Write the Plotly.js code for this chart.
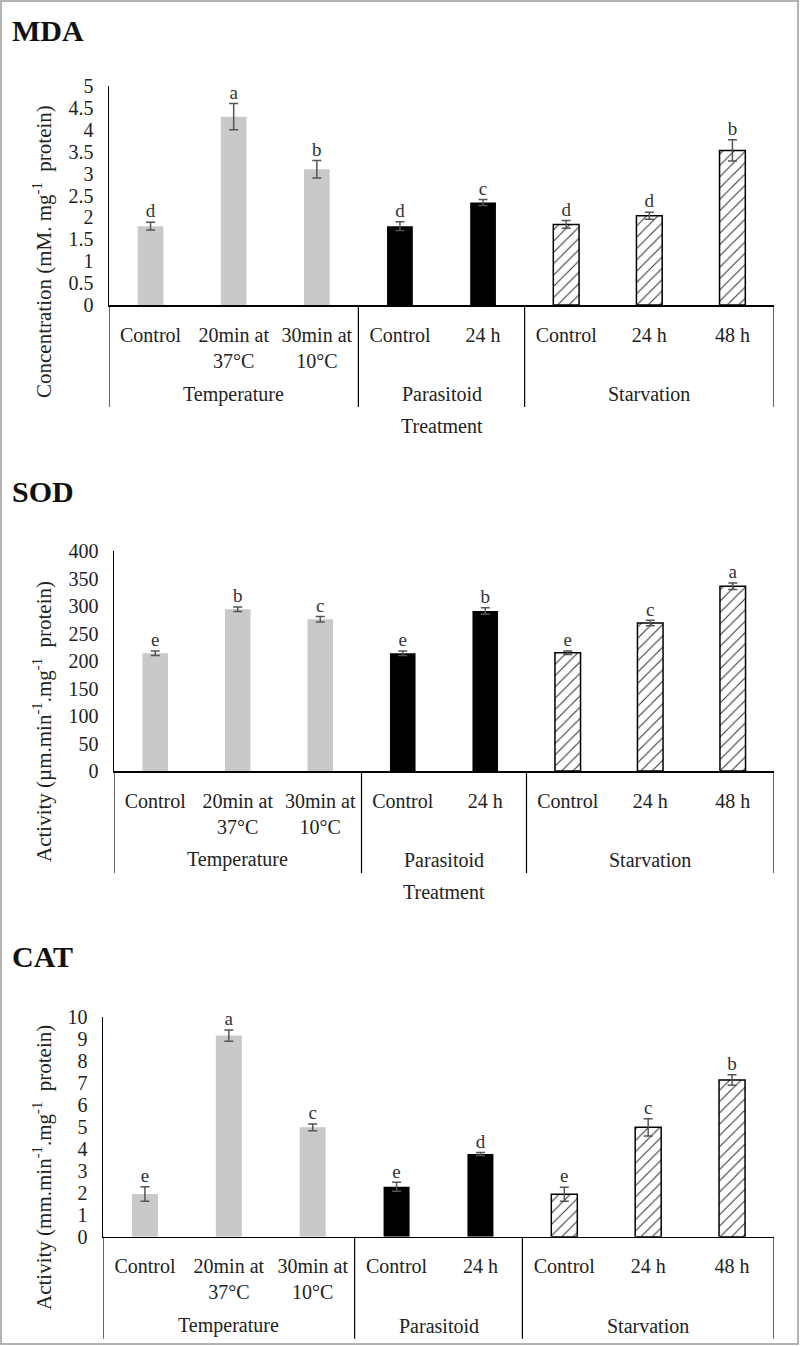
<!DOCTYPE html>
<html>
<head>
<meta charset="utf-8">
<script src="https://cdn.plot.ly/plotly-3.0.1.min.js"></script>
<style>
  body { margin: 0; background: #fff; }
  #graphDiv { width: 800px; height: 1346px; }
</style>
</head>
<body>
<div id="graphDiv"></div>
<script>
// tick labels and groups (same for all three panels)
var treatments = ['Control', '20min at<br>37°C', '30min at<br>10°C', 'Control', '24 h', 'Control', '24 h', '48 h'];
var groups = ['Temperature', 'Parasitoid', 'Starvation'];
var groupStart = [0, 3, 5];          // first category index of each group
var groupSize = [3, 2, 3];

// MDA
var mdaValues = [1.80, 4.30, 3.10, 1.80, 2.34, 1.84, 2.04, 3.53];
var mdaErrors = [0.09, 0.30, 0.20, 0.10, 0.07, 0.09, 0.08, 0.24];
var mdaLetters = ['d', 'a', 'b', 'd', 'c', 'd', 'd', 'b'];

// SOD
var sodValues = [214, 294, 276, 214, 291, 215, 269, 336];
var sodErrors = [4, 4, 5, 4, 6, 3, 5, 6];
var sodLetters = ['e', 'b', 'c', 'e', 'b', 'e', 'c', 'a'];

// CAT
var catValues = [1.94, 9.14, 4.97, 2.27, 3.76, 1.93, 4.97, 7.12];
var catErrors = [0.33, 0.26, 0.15, 0.20, 0.07, 0.32, 0.39, 0.24];
var catLetters = ['e', 'a', 'c', 'e', 'd', 'e', 'c', 'b'];

var H = 1346, W = 800;
var SERIF = 'Liberation Serif, Times New Roman, serif';
function px(x) { return x / W; }
function py(y) { return 1 - y / H; }

var idx = [0, 1, 2, 3, 4, 5, 6, 7];
// look of each group: temperature grey, parasitoid black, starvation hatched
var groupMarkers = [
  { color: '#c9c9c9', line: { width: 0 } },
  { color: '#000000', line: { width: 0 } },
  { color: '#ffffff', line: { color: '#000', width: 1.5 },
    pattern: { shape: '/', fgcolor: '#333', bgcolor: '#fff', size: 8, solidity: 0.13, fillmode: 'replace' } }
];

function panelTraces(n, values, errors, letters) {
  var xa = n == 1 ? 'x' : 'x' + n;
  var ya = n == 1 ? 'y' : 'y' + n;
  var out = [];
  groups.forEach(function (g, i) {
    var a = groupStart[i], b = a + groupSize[i];
    out.push({
      type: 'bar', name: g, x: idx.slice(a, b), y: values.slice(a, b), xaxis: xa, yaxis: ya, width: 0.31,
      marker: groupMarkers[i],
      error_y: { type: 'data', array: errors.slice(a, b), visible: true, color: '#555', thickness: 1.5, width: 4.5 },
      showlegend: false, hoverinfo: 'skip'
    });
  });
  var tops = values.map(function (v, i) { return v + errors[i]; });
  out.push({
    type: 'scatter', mode: 'text', x: idx, y: tops, xaxis: xa, yaxis: ya,
    text: letters, textposition: 'top center',
    textfont: { family: SERIF, size: 19, color: '#333' },
    cliponaxis: false, showlegend: false, hoverinfo: 'skip'
  });
  return out;
}

function xAxis(left, anchor) {
  return {
    domain: [px(left), px(774)], anchor: anchor, range: [-0.5, 7.5],
    tickvals: idx, ticktext: treatments, ticks: '', ticklabelstandoff: 11,
    tickfont: { family: SERIF, size: 20, color: '#222' },
    showline: true, linecolor: '#000', linewidth: 1.5,
    showgrid: false, zeroline: false, fixedrange: true
  };
}
function yAxis(top, bottom, anchor, max, dtick) {
  return {
    domain: [py(bottom), py(top)], anchor: anchor, range: [0, max], dtick: dtick,
    ticks: '', ticklabelstandoff: 10,
    tickfont: { family: SERIF, size: 20, color: '#222' },
    showline: true, linecolor: '#000', linewidth: 1.5,
    showgrid: false, zeroline: false, fixedrange: true
  };
}

var panels = [
  { name: 'MDA', left: 109, top: 86, zero: 305, max: 5, dtick: 0.5, titleY: 30,
    ytitle: 'Concentration (mM. mg<sup>-1</sup>\u00a0\u00a0protein)', ytitleY: 252, treatment: true },
  { name: 'SOD', left: 114, top: 551, zero: 771, max: 400, dtick: 50, titleY: 491,
    ytitle: 'Activity (µm.min<sup>-1</sup>.mg<sup>-1</sup>\u00a0\u00a0protein)', ytitleY: 722, treatment: true },
  { name: 'CAT', left: 103, top: 1016.7, zero: 1236.7, max: 10, dtick: 1, titleY: 956,
    ytitle: 'Activity (mm.min<sup>-1</sup>.mg<sup>-1</sup>\u00a0\u00a0protein)', ytitleY: 1168, treatment: false }
];

var data = [].concat(
  panelTraces(1, mdaValues, mdaErrors, mdaLetters),
  panelTraces(2, sodValues, sodErrors, sodLetters),
  panelTraces(3, catValues, catErrors, catLetters)
);

var layout = {
  width: W, height: H,
  margin: { l: 0, r: 0, t: 0, b: 0 },
  paper_bgcolor: '#fff', plot_bgcolor: 'rgba(0,0,0,0)',
  font: { family: SERIF, color: '#222' },
  barmode: 'overlay',
  annotations: [],
  shapes: [{
    type: 'rect', xref: 'paper', yref: 'paper', x0: px(1), x1: px(798), y0: py(1344), y1: py(1),
    line: { color: '#9a9a9a', width: 1.5 }
  }]
};

panels.forEach(function (p, k) {
  var n = k + 1;
  var xk = n == 1 ? 'xaxis' : 'xaxis' + n;
  var yk = n == 1 ? 'yaxis' : 'yaxis' + n;
  var xa = n == 1 ? 'x' : 'x' + n;
  var ya = n == 1 ? 'y' : 'y' + n;
  layout[xk] = xAxis(p.left, ya);
  layout[yk] = yAxis(p.top, p.zero, xa, p.max, p.dtick);

  // panel heading
  layout.annotations.push({
    xref: 'paper', yref: 'paper', x: px(10), y: py(p.titleY), xanchor: 'left', yanchor: 'middle',
    text: '<b>' + p.name + '</b>', showarrow: false,
    font: { family: SERIF, size: 30, color: '#111' }
  });
  // y title
  layout.annotations.push({
    xref: 'paper', yref: 'paper', x: px(42), y: py(p.ytitleY), xanchor: 'center', yanchor: 'middle',
    text: p.ytitle, textangle: -90, showarrow: false,
    font: { family: SERIF, size: 21, color: '#222' }
  });
  // group labels and dividers
  groups.forEach(function (g, i) {
    layout.annotations.push({
      xref: xa, yref: 'paper', x: groupStart[i] + (groupSize[i] - 1) / 2, y: py(p.zero + 89), yanchor: 'middle',
      text: g, showarrow: false, font: { family: SERIF, size: 20, color: '#222' }
    });
  });
  [-0.5, 2.5, 4.5, 7.5].forEach(function (e) {
    layout.shapes.push({
      type: 'line', xref: xa, yref: 'paper', x0: e, x1: e, y0: py(p.zero), y1: py(p.zero + 102),
      line: { color: '#000', width: 1.2 }
    });
  });
  if (p.treatment) {
    layout.annotations.push({
      xref: xa, yref: 'paper', x: 3.5, y: py(p.zero + 121), yanchor: 'middle',
      text: 'Treatment', showarrow: false, font: { family: SERIF, size: 20, color: '#222' }
    });
  }
});

Plotly.newPlot('graphDiv', data, layout, { displayModeBar: false, staticPlot: true });
</script>
</body>
</html>
